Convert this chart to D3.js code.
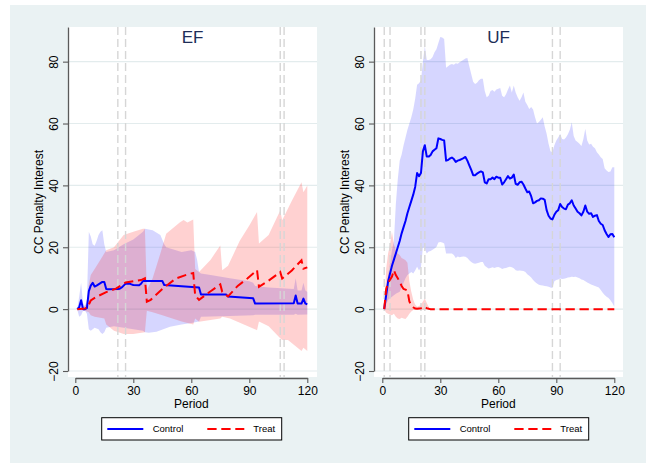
<!DOCTYPE html>
<html>
<head>
<meta charset="utf-8">
<script src="https://cdn.jsdelivr.net/npm/d3@7"></script>
<style>
  html, body { margin: 0; padding: 0; background: #ffffff; }
  svg { display: block; font-family: "Liberation Sans", Arial, Helvetica, sans-serif; }
</style>
</head>
<body>
<svg id="chart" width="648" height="464"></svg>
<script>
// ---- data: [period, value] vertices ----
const xTicks = [0, 30, 60, 90, 120];
const yTicks = [-20, 0, 20, 40, 60, 80];
const panelNames = ["EF", "UF"];
const seriesNames = ["Control", "Treat"];

// EF panel
const efEvents = [22, 26, 106, 108];
const efControl = [[1,0],[2,0.6],[3,2.9],[4,0],[5,0],[6,0.3],[7,5.8],[8,7.6],[9,8.5],[10,7.3],[11,7.6],[12,8],[13,8.4],[14,8.8],[15,8.8],[16,6.5],[17,6.4],[22,6.5],[23,6.6],[24,7],[25,7.6],[26,8.2],[27,8.2],[28,8.3],[29,8],[30,7.8],[33,7.7],[34,8.2],[35,9.1],[45,9.1],[46,7.8],[64,7.0],[65,4.7],[78,4.7],[79,4.1],[92,3.5],[93,1.8],[113,1.9],[114,4.4],[115,1.8],[117,1.8],[118,3.4],[119,1.8],[120,1.6]];
const efControlHi = [[1,0],[2,4],[3,8.5],[4,2],[5,1],[6,3],[7,25],[8,23.5],[9,21],[10,20.5],[11,22],[12,24],[13,25],[14,25.5],[15,21],[16,18.5],[20,19],[25,21],[30,22.5],[35,25],[36,26],[40,25.5],[44,24],[46,21],[47,20],[55,18.5],[60,19],[62,18.5],[63,16],[64,12],[65,11.5],[70,11],[80,10],[90,9],[92,8.5],[93,7.5],[100,7],[113,6.5],[114,10],[115,6],[117,6],[118,8.5],[119,6],[120,5.5]];
const efControlLo = [[1,0],[2,-2.5],[3,-2],[4,-0.5],[5,-0.5],[6,-1.5],[7,-6.5],[8,-7],[9,-6.5],[10,-6],[12,-6.5],[13,-7.5],[14,-8],[15,-7.5],[16,-6],[20,-5.5],[25,-6],[30,-6.5],[35,-7],[36,-7.5],[38,-7.6],[42,-7.3],[49,-5.7],[55,-5],[60,-4.5],[64,-4],[65,-2.5],[75,-2.3],[80,-2.2],[92,-2],[93,-1.8],[113,-1.8],[114,-1.5],[115,-1.8],[120,-1.7]];
const efTreat = [[1,0],[5,0.2],[6,0.4],[7,1.5],[8,2.8],[11,4],[16,5.5],[21,6.6],[26,8.6],[30,9],[34,9.4],[36,10],[37,2.4],[39,3],[45,6.5],[52,9.9],[57,11],[61,11.7],[62,4.5],[64,3],[70,5.8],[75,8],[76,5.6],[79,4.1],[84,7.5],[89,9.9],[94,12.6],[95,7.2],[100,9.2],[106,12],[107,9.9],[112,12.5],[117,15.8],[118,13.1],[120,13.5]];
const efTreatHi = [[1,0],[5,1],[6,2],[7,8],[8,11],[10,13],[13,16],[16,19],[20,20],[25,24],[30,25],[35,26],[36,26],[37,6],[40,10],[44,18],[47,24.4],[54,28],[56,28.8],[58,28],[61,29],[62,13],[64,12],[70,16],[75,20.6],[76,12.6],[79,14],[85,22],[90,27],[94,31.4],[95,21.2],[100,24],[106,31.9],[107,28.7],[112,35],[117,41],[118,37.8],[120,40]];
const efTreatLo = [[1,0],[5,-0.5],[6,-0.8],[7,-1],[8,-2],[10,-2.5],[15,-3],[16,-5],[20,-7],[25,-8],[30,-8],[36,-7.5],[37,-0.5],[40,-1],[45,-2],[55,-4],[61,-5],[62,-3],[64,-4.1],[70,-3.5],[75,-3],[76,-2.5],[80,-3],[94,-6.8],[95,-4],[100,-5.5],[106,-9.4],[107,-10],[110,-10],[117,-13.5],[118,-12.5],[120,-13.5]];

// UF panel
const ufEvents = [1, 4, 20, 22, 88, 92];
const ufControl = [[1,0],[2,4.5],[3,9],[4,11.5],[5,14],[6,16],[7,18],[8,20],[9,22],[10,24.5],[11,26.5],[12,28.5],[13,31],[14,33],[15,35],[16,37],[17,39.5],[18,44],[19,43],[20,44],[21,51],[22,53],[23,49.3],[24,49.3],[25,49.8],[26,51],[27,51.5],[28,52],[29,55.2],[30,55],[31,54.7],[32,54.5],[33,48],[34,48.2],[35,48.7],[36,49],[37,48.5],[38,47.6],[39,48],[40,48.2],[41,48.5],[42,48.8],[43,49.2],[44,48],[45,46.5],[46,45],[47,43.3],[48,43.3],[49,43.8],[50,44.2],[51,44.5],[52,44.2],[53,41],[54,40.6],[55,42],[56,42],[57,42.5],[58,42],[59,42.8],[60,42.5],[61,42.5],[62,40.3],[63,41],[64,42],[65,43],[66,42.2],[67,42.5],[68,43.5],[69,40.5],[70,40.2],[71,41],[72,41.2],[73,40.3],[74,39],[75,37.8],[76,38],[77,36.5],[78,34.2],[79,34.5],[80,35],[81,35.2],[82,35.8],[83,35.7],[84,35.3],[85,32],[86,30.2],[87,29.3],[88,29],[89,30.5],[90,31.5],[91,32],[92,34],[93,33],[94,32.5],[95,32.3],[96,33.8],[97,34.2],[98,35.2],[99,33.5],[100,32.5],[101,31.5],[102,31],[103,30.3],[104,31.5],[105,33.5],[106,31.5],[107,30.8],[108,31],[109,29.8],[110,30.2],[111,30.4],[112,28.5],[113,27.6],[114,27.2],[115,25.5],[116,24.3],[117,23.3],[118,24.2],[119,24.3],[120,23.2]];
const ufControlHi = [[1,0],[2,6],[3,11],[4,15],[5,19],[6,22],[7,34],[8,42],[9,48],[10,50],[11,53],[12,55.5],[13,58],[14,60],[15,62],[16,64.5],[17,68],[18,72.5],[19,73],[20,74],[21,80],[22,85],[23,80.5],[24,80.5],[25,80.8],[26,81.5],[27,83],[28,84],[29,86],[30,88],[31,87.8],[32,87.3],[33,78],[34,78.5],[35,79],[36,79.2],[37,79],[38,79.5],[39,79.3],[40,79.8],[41,80.2],[42,80.6],[43,81],[44,81.2],[45,78.5],[46,76],[47,73.5],[48,72.8],[49,73.2],[50,74],[51,74.5],[52,74.5],[53,70.5],[54,68.5],[55,69],[56,70.5],[57,70.8],[58,70.3],[59,71],[60,71.2],[61,71.5],[62,69],[63,68.5],[64,69.5],[65,71],[66,72.3],[67,70],[68,72.3],[69,70],[70,68.5],[71,67.4],[72,68.5],[73,70],[74,67],[75,66],[76,64.7],[77,65.3],[78,64.5],[79,62],[80,60],[81,60.5],[82,61.2],[83,62],[84,59],[85,56.7],[86,53.5],[87,51],[88,50.7],[89,53],[90,54.5],[91,55.5],[92,56.7],[93,55],[94,54.8],[95,55.5],[96,56.5],[97,58],[98,60.4],[99,56],[100,54.5],[101,54],[102,53.5],[103,52.7],[104,55],[105,58.3],[106,54.5],[107,53.2],[108,53.5],[109,52.5],[110,52],[111,50.7],[112,50],[113,49.1],[114,48.5],[115,45.5],[116,44.8],[117,44.3],[118,44.5],[119,45.9],[120,45.9]];
const ufControlLo = [[1,0],[2,1.5],[3,3],[4,3.5],[5,4],[6,4.5],[7,5],[8,5.3],[9,5.6],[10,7],[11,8.5],[12,10],[13,11],[14,11.5],[15,12],[16,11.5],[17,12.5],[18,13.7],[19,12.5],[20,13.5],[21,20],[22,19.5],[23,18],[24,18.6],[25,18.8],[26,19.2],[27,19.6],[28,20.1],[29,21.5],[30,21.7],[31,21.5],[32,21.2],[33,18],[34,18],[35,18],[36,18],[37,17.5],[38,16.5],[39,17],[40,16.8],[41,16.9],[42,17],[43,16.9],[44,16.5],[45,15.8],[46,15.2],[47,14.8],[48,14.7],[49,14.8],[50,15],[51,15.2],[52,15.2],[53,14],[54,13.5],[55,13.1],[56,13.3],[57,13.5],[58,13.3],[59,13.5],[60,13.6],[61,13.4],[62,13],[63,13.2],[64,13.3],[65,13.5],[66,13.7],[67,13.5],[68,13.2],[69,12.6],[70,12.4],[71,12.5],[72,12.4],[73,12.3],[74,12],[75,11.3],[76,10.8],[77,10.2],[78,9.4],[79,8.8],[80,8.3],[81,7.9],[82,7.7],[83,7.6],[84,7.5],[85,7.4],[86,7.2],[87,7],[88,6.8],[89,9],[90,9.4],[91,9.6],[92,9.9],[93,9.7],[94,9.8],[95,10],[96,10.2],[97,10.3],[98,10.5],[99,10.4],[100,10.5],[101,10.2],[102,10],[103,9.6],[104,9.4],[105,9],[106,8.6],[107,8.3],[108,8],[109,7.7],[110,7.5],[111,7.2],[112,7],[113,6.2],[114,5.3],[115,4.6],[116,4],[117,3.6],[118,2.9],[119,2],[120,0.8]];
const ufTreat = [[1,0],[2,6.5],[3,8.5],[4,9.5],[5,10.5],[6,12.6],[7,11],[8,10],[9,8.8],[10,7.5],[11,6.5],[12,6.3],[13,6],[14,2.5],[15,1.2],[16,0.6],[17,0.2],[18,0.1],[19,0.2],[20,0.3],[21,0.5],[22,0.8],[23,0.3],[24,0.1],[25,0],[120,0]];
const ufTreatHi = [[1,0],[2,13],[3,18],[4,21],[5,25],[6,21],[7,19],[8,18],[9,17.5],[10,16.5],[11,16.2],[12,15.8],[13,15],[14,9],[15,5.6],[16,3],[17,1.5],[18,0.8],[19,1],[20,1.5],[21,2.5],[22,3.4],[23,2],[24,0.8],[25,0]];
const ufTreatLo = [[1,0],[2,-1.2],[3,-1.5],[4,-1.8],[5,-2],[6,-1.5],[7,-2.5],[8,-3],[9,-3.2],[10,-2.8],[11,-3],[12,-3.2],[13,-2.5],[14,-1.5],[15,-0.8],[16,-0.3],[17,-0.1],[18,-0.1],[19,-0.1],[20,-0.1],[21,-0.2],[22,-0.3],[23,-0.2],[24,-0.1],[25,0]];

const panels = [
  { name: panelNames[0], events: efEvents,
    control: efControl, controlHi: efControlHi, controlLo: efControlLo,
    treat: efTreat, treatHi: efTreatHi, treatLo: efTreatLo },
  { name: panelNames[1], events: ufEvents,
    control: ufControl, controlHi: ufControlHi, controlLo: ufControlLo,
    treat: ufTreat, treatHi: ufTreatHi, treatLo: ufTreatLo }
];

// ---- styling ----
const bgColor = "#eaf2f3";
const gridColor = "#e3eced";
const axisColor = "#5a5a5a";
const blue = "#0000ff";
const red = "#ff0000";
const titleColor = "#1e2d58";

const svg = d3.select("#chart");

// outer graph region
svg.append("rect").attr("x", 10).attr("y", 5).attr("width", 636).attr("height", 458).attr("fill", bgColor);

const panelLeft = [68, 374];
const panelWidth = 249;
const plotTop = 27, plotBottom = 377;

panels.forEach((p, i) => {
  const left = panelLeft[i];
  const off = i === 0 ? 0 : 307;
  const g = svg.append("g");

  const x = d3.scaleLinear().domain([0, 120]).range([75.3 + off, 307.3 + off]);
  const y = d3.scaleLinear().domain([-20, 91.2]).range([371, plotTop]);

  // plot region
  g.append("rect").attr("x", left).attr("y", plotTop).attr("width", panelWidth)
    .attr("height", plotBottom - plotTop).attr("fill", "#ffffff");

  // horizontal grid
  g.selectAll(".grid").data(yTicks).enter().append("line")
    .attr("x1", left).attr("x2", left + panelWidth)
    .attr("y1", d => y(d)).attr("y2", d => y(d))
    .attr("stroke", gridColor).attr("stroke-width", 1.2);

  const line = d3.line().x(d => x(d[0])).y(d => y(d[1]));
  const band = (hi, lo) => line(hi.concat(lo.slice().reverse())) + "Z";

  // confidence bands
  g.append("path").attr("d", band(p.controlHi, p.controlLo))
    .attr("fill", blue).attr("fill-opacity", 0.16).attr("stroke", "none");
  g.append("path").attr("d", band(p.treatHi, p.treatLo))
    .attr("fill", red).attr("fill-opacity", 0.18).attr("stroke", "none");

  // event markers
  g.selectAll(".evt").data(p.events).enter().append("line")
    .attr("x1", d => x(d)).attr("x2", d => x(d))
    .attr("y1", plotTop).attr("y2", plotBottom)
    .attr("stroke", "#d6d6d6").attr("stroke-width", 1.4)
    .attr("stroke-dasharray", "8,4");

  // mean lines
  g.append("path").attr("d", line(p.control)).attr("fill", "none")
    .attr("stroke", blue).attr("stroke-width", 2).attr("stroke-linejoin", "round");
  g.append("path").attr("d", line(p.treat)).attr("fill", "none")
    .attr("stroke", red).attr("stroke-width", 2).attr("stroke-dasharray", "9.3,4.7");

  // panel title
  g.append("text").attr("x", left + panelWidth / 2).attr("y", 42.5)
    .attr("text-anchor", "middle").attr("font-size", 17).attr("fill", titleColor)
    .text(p.name);

  // y axis
  const yAxis = d3.axisLeft(y).tickValues(yTicks).tickSize(5).tickSizeOuter(0).tickFormat(d3.format("d"));
  const ya = g.append("g").attr("transform", `translate(${left},0)`).call(yAxis);
  ya.select(".domain").attr("stroke", axisColor).attr("stroke-width", 1.3);
  ya.selectAll(".tick line").attr("stroke", axisColor).attr("stroke-width", 1.1);
  ya.selectAll(".tick text")
    .attr("x", 0).attr("dy", null)
    .attr("transform", "translate(-10.5,0) rotate(-90)")
    .attr("text-anchor", "middle").attr("font-size", 12)
    .attr("font-family", "Liberation Sans, Arial, sans-serif").attr("fill", "#000");

  g.append("text")
    .attr("transform", `translate(${left - 25},${(plotTop + plotBottom) / 2}) rotate(-90)`)
    .attr("text-anchor", "middle").attr("font-size", 12).attr("fill", "#000")
    .text("CC Penalty Interest");

  // x axis
  const xAxis = d3.axisBottom(x).tickValues(xTicks).tickSize(5).tickSizeOuter(0).tickPadding(3);
  const xa = g.append("g").attr("transform", "translate(0,378)").call(xAxis);
  xa.select(".domain").attr("stroke", axisColor).attr("stroke-width", 1.3);
  xa.selectAll(".tick line").attr("stroke", axisColor).attr("stroke-width", 1.1);
  xa.selectAll(".tick text").attr("font-size", 12)
    .attr("font-family", "Liberation Sans, Arial, sans-serif").attr("fill", "#000");

  g.append("text").attr("x", x(60)).attr("y", 407.5).attr("text-anchor", "middle")
    .attr("font-size", 12).attr("fill", "#000").text("Period");

  // legend
  const lg = g.append("g").attr("transform", `translate(${off},0)`);
  lg.append("rect").attr("x", 101.7).attr("y", 417.7).attr("width", 180).attr("height", 22.3)
    .attr("fill", "#ffffff").attr("stroke", "#000").attr("stroke-width", 1);
  lg.append("line").attr("x1", 107.3).attr("x2", 143.3).attr("y1", 429).attr("y2", 429)
    .attr("stroke", blue).attr("stroke-width", 2);
  lg.append("text").attr("x", 152.7).attr("y", 432.4).attr("font-size", 9.5).attr("fill", "#000")
    .text(seriesNames[0]);
  lg.append("line").attr("x1", 207.3).attr("x2", 244.3).attr("y1", 429).attr("y2", 429)
    .attr("stroke", red).attr("stroke-width", 2).attr("stroke-dasharray", "9.3,4.7");
  lg.append("text").attr("x", 253.3).attr("y", 432.4).attr("font-size", 9.5).attr("fill", "#000")
    .text(seriesNames[1]);
});
</script>
</body>
</html>
